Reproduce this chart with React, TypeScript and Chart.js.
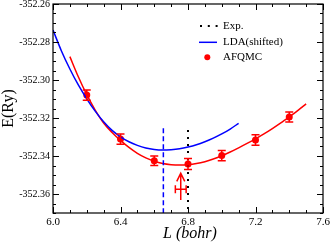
import React, { useEffect, useRef } from "react";
import { Chart, registerables } from "chart.js";
Chart.register(...registerables);

// LDA (shifted) curve
const ldaL = [6.0, 6.05, 6.1, 6.15, 6.2, 6.25, 6.3, 6.35, 6.4, 6.45, 6.5, 6.55, 6.6, 6.65, 6.7, 6.75, 6.8, 6.85, 6.9, 6.95, 7.0, 7.05, 7.1];
const ldaE = [-352.2737, -352.2847, -352.2942, -352.3026, -352.3099, -352.3164, -352.322, -352.3265, -352.3299, -352.3325, -352.3344, -352.3358, -352.3366, -352.3369, -352.3367, -352.3362, -352.3353, -352.3341, -352.3325, -352.3306, -352.3284, -352.3258, -352.3228];

// AFQMC fit curve
const fitL = [6.1, 6.15, 6.2, 6.25, 6.3, 6.35, 6.4, 6.45, 6.5, 6.55, 6.6, 6.65, 6.7, 6.75, 6.8, 6.85, 6.9, 6.95, 7.0, 7.05, 7.1, 7.15, 7.2, 7.25, 7.3, 7.35, 7.4, 7.45, 7.5];
const fitE = [-352.2877, -352.2983, -352.3077, -352.3158, -352.3226, -352.3276, -352.3318, -352.3355, -352.3386, -352.341, -352.3428, -352.344, -352.3446, -352.3448, -352.3446, -352.344, -352.343, -352.3416, -352.3399, -352.3379, -352.3357, -352.3334, -352.331, -352.3284, -352.3256, -352.3226, -352.3194, -352.3161, -352.3126];

// AFQMC points
const afqmcL = [6.2, 6.4, 6.6, 6.8, 7.0, 7.2, 7.4];
const afqmcE = [-352.3079, -352.3311, -352.3425, -352.3442, -352.3398, -352.3316, -352.3195];
const afqmcErr = [0.0027, 0.0027, 0.0025, 0.0029, 0.0027, 0.0028, 0.0026];

// Vertical markers
const expLineL = [6.8, 6.8];
const expLineE = [-352.3263, -352.37];
const ldaMinLineL = [6.654, 6.654];
const ldaMinLineE = [-352.3254, -352.37];

// AFQMC equilibrium estimate (arrow with horizontal error)
const eqL = 6.757;
const eqLErr = 0.032;
const eqE = -352.3575;
const eqArrowE = [-352.3632, -352.3491];

// Axis ticks
const xTicks = [6.0, 6.4, 6.8, 7.2, 7.6];
const yTicks = [-352.36, -352.34, -352.32, -352.3, -352.28, -352.26];
const xMinorStep = 0.1;
const yMinorStep = 0.005;

const legendLabels = ["Exp.", "LDA(shifted)", "AFQMC"];

const SERIF = "'Liberation Serif', 'Times New Roman', serif";
const RED = "#ff0000";
const BLUE = "#0000ff";

const toPts = (xs: number[], ys: number[]) => xs.map((x, i) => ({ x, y: ys[i] }));

const decor = {
  id: "decor",
  afterDatasetsDraw(chart: any) {
    const ctx = chart.ctx;
    const xs = chart.scales.x;
    const ys = chart.scales.y;
    const a = chart.chartArea;
    ctx.save();

    // error bars
    ctx.strokeStyle = RED;
    ctx.lineWidth = 1.5;
    afqmcL.forEach((L, i) => {
      const px = xs.getPixelForValue(L);
      const y1 = ys.getPixelForValue(afqmcE[i] + afqmcErr[i]);
      const y2 = ys.getPixelForValue(afqmcE[i] - afqmcErr[i]);
      ctx.beginPath();
      ctx.moveTo(px, y1); ctx.lineTo(px, y2);
      ctx.moveTo(px - 4, y1); ctx.lineTo(px + 4, y1);
      ctx.moveTo(px - 4, y2); ctx.lineTo(px + 4, y2);
      ctx.stroke();
    });

    // equilibrium arrow + horizontal error bar
    const ax = xs.getPixelForValue(eqL);
    const ayB = ys.getPixelForValue(eqArrowE[0]);
    const ayT = ys.getPixelForValue(eqArrowE[1]);
    ctx.beginPath();
    ctx.moveTo(ax, ayB); ctx.lineTo(ax, ayT);
    ctx.moveTo(ax - 4, ayT + 8); ctx.lineTo(ax, ayT); ctx.lineTo(ax + 4, ayT + 8);
    const hy = ys.getPixelForValue(eqE);
    const hx1 = xs.getPixelForValue(eqL - eqLErr);
    const hx2 = xs.getPixelForValue(eqL + eqLErr);
    ctx.moveTo(hx1, hy); ctx.lineTo(hx2, hy);
    ctx.moveTo(hx1, hy - 4); ctx.lineTo(hx1, hy + 4);
    ctx.moveTo(hx2, hy - 4); ctx.lineTo(hx2, hy + 4);
    ctx.stroke();

    // frame
    ctx.strokeStyle = "#000";
    ctx.lineWidth = 1.2;
    ctx.setLineDash([]);
    ctx.strokeRect(a.left, a.top, a.right - a.left, a.bottom - a.top);

    // ticks
    ctx.lineWidth = 1;
    ctx.beginPath();
    const xMin = xs.min, xMax = xs.max, yMin = ys.min, yMax = ys.max;
    const nx = Math.round((xMax - xMin) / xMinorStep);
    for (let k = 0; k <= nx; k++) {
      const v = xMin + k * xMinorStep;
      const major = xTicks.some((t) => Math.abs(t - v) < 1e-6);
      const len = major ? 6 : 3;
      const px = Math.round(xs.getPixelForValue(v)) + 0.5;
      ctx.moveTo(px, a.bottom); ctx.lineTo(px, a.bottom - len);
      ctx.moveTo(px, a.top); ctx.lineTo(px, a.top + len);
    }
    const ny = Math.round((yMax - yMin) / yMinorStep);
    for (let k = 0; k <= ny; k++) {
      const v = yMin + k * yMinorStep;
      const major = yTicks.some((t) => Math.abs(t - v) < 1e-6);
      const len = major ? 6 : 3;
      const py = Math.round(ys.getPixelForValue(v)) + 0.5;
      ctx.moveTo(a.left, py); ctx.lineTo(a.left + len, py);
      ctx.moveTo(a.right, py); ctx.lineTo(a.right - len, py);
    }
    ctx.stroke();

    // legend
    const lx1 = 199, lx2 = 217, tx = 223;
    const rows = [26, 42.3, 57.3];
    ctx.strokeStyle = "#000";
    ctx.lineWidth = 2;
    ctx.setLineDash([2, 5.8]);
    ctx.beginPath();
    ctx.moveTo(lx1 + 1, rows[0]); ctx.lineTo(lx2 + 1, rows[0]);
    ctx.stroke();
    ctx.setLineDash([]);
    ctx.strokeStyle = BLUE;
    ctx.lineWidth = 1.5;
    ctx.beginPath();
    ctx.moveTo(lx1, rows[1]); ctx.lineTo(lx2, rows[1]);
    ctx.stroke();
    ctx.fillStyle = RED;
    ctx.beginPath();
    ctx.arc(207.3, rows[2], 3, 0, Math.PI * 2);
    ctx.fill();
    ctx.fillStyle = "#000";
    ctx.font = `11px ${SERIF}`;
    ctx.textAlign = "left";
    ctx.textBaseline = "middle";
    legendLabels.forEach((t, i) => ctx.fillText(t, tx, rows[i]));

    // axis titles
    ctx.font = `16px ${SERIF}`;
    ctx.textAlign = "center";
    ctx.textBaseline = "middle";
    ctx.save();
    ctx.translate(9, (a.top + a.bottom) / 2);
    ctx.rotate(-Math.PI / 2);
    ctx.fillText("E(Ry)", 0, 0);
    ctx.restore();
    ctx.font = `italic 16px ${SERIF}`;
    ctx.fillText("L (bohr)", (a.left + a.right) / 2 + 2, 234);

    ctx.restore();
  },
};

export default function App() {
  const ref = useRef<HTMLCanvasElement>(null);
  useEffect(() => {
    if (!ref.current) return;
    const chart = new Chart(ref.current, {
      type: "scatter",
      data: {
        datasets: [
          {
            label: "Exp.",
            data: toPts(expLineL, expLineE),
            showLine: true,
            borderColor: "#000",
            borderWidth: 2,
            borderDash: [2, 5],
            pointRadius: 0,
          },
          {
            label: "LDA min",
            data: toPts(ldaMinLineL, ldaMinLineE),
            showLine: true,
            borderColor: BLUE,
            borderWidth: 1.5,
            borderDash: [5, 3],
            pointRadius: 0,
          },
          {
            label: "LDA(shifted)",
            data: toPts(ldaL, ldaE),
            showLine: true,
            borderColor: BLUE,
            borderWidth: 1.5,
            pointRadius: 0,
            cubicInterpolationMode: "monotone",
          },
          {
            label: "AFQMC fit",
            data: toPts(fitL, fitE),
            showLine: true,
            borderColor: RED,
            borderWidth: 1.5,
            pointRadius: 0,
            cubicInterpolationMode: "monotone",
          },
          {
            label: "AFQMC",
            data: toPts(afqmcL, afqmcE),
            showLine: false,
            backgroundColor: RED,
            borderColor: RED,
            pointRadius: 3.5,
            borderWidth: 0,
          },
        ],
      },
      plugins: [decor],
      options: {
        responsive: false,
        animation: false,
        devicePixelRatio: 1,
        layout: { padding: { top: 4, right: 9, left: 0, bottom: 0 } },
        plugins: { legend: { display: false }, tooltip: { enabled: false } },
        scales: {
          x: {
            type: "linear",
            min: 6.0,
            max: 7.6,
            grid: { display: false, drawTicks: false },
            border: { display: false },
            afterBuildTicks: (s: any) => { s.ticks = xTicks.map((v) => ({ value: v })); },
            afterFit: (s: any) => { s.height = 31; s.paddingLeft = 0; s.paddingRight = 0; },
            ticks: {
              padding: 3,
              color: "#000",
              font: { family: SERIF, size: 11 },
              maxRotation: 0,
              autoSkip: false,
              callback: (v: any) => Number(v).toFixed(1),
            },
          },
          y: {
            type: "linear",
            min: -352.37,
            max: -352.26,
            grid: { display: false, drawTicks: false },
            border: { display: false },
            afterBuildTicks: (s: any) => { s.ticks = yTicks.map((v) => ({ value: v })); },
            afterFit: (s: any) => { s.width = 53; s.paddingTop = 0; s.paddingBottom = 0; },
            ticks: {
              padding: 3,
              color: "#000",
              font: { family: SERIF, size: 10 },
              autoSkip: false,
              callback: (v: any) => Number(v).toFixed(2),
            },
          },
        },
      } as any,
    });
    return () => chart.destroy();
  }, []);
  return (
    <div style={{ position: "absolute", left: 0, top: 0, width: 332, height: 244, background: "#fff" }}>
      <canvas ref={ref} width={332} height={244} />
    </div>
  );
}
